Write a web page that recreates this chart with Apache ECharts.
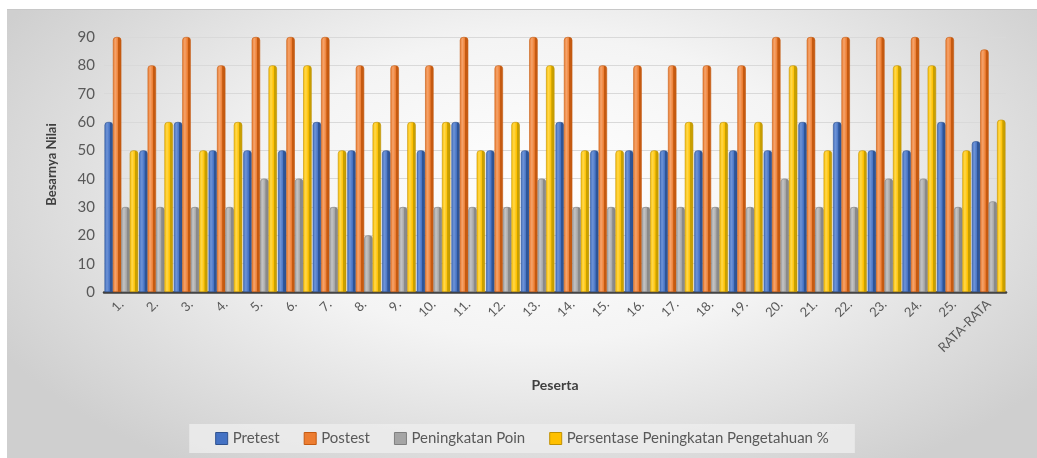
<!DOCTYPE html>
<html>
<head>
<meta charset="utf-8">
<script src="https://cdn.jsdelivr.net/npm/echarts@6/dist/echarts.min.js"></script>
<style>
  html, body { margin: 0; padding: 0; background: #ffffff; }
  #frame {
    position: absolute; left: 7px; top: 9px; width: 1030px; height: 449px;
    border-top: 1px solid #c8c8c8;
    background: radial-gradient(ellipse 60% 75% at 52% 40%, #ffffff 0%, #f4f4f4 45%, #dcdcdc 80%, #cfcfcf 100%);
  }
  #chart { position: absolute; left: 0; top: 0; width: 1030px; height: 449px; }
</style>
</head>
<body>
<div id="frame"><div id="chart"></div></div>
<script>
// Participants and the averaged column
const categories = ['1.', '2.', '3.', '4.', '5.', '6.', '7.', '8.', '9.', '10.',
  '11.', '12.', '13.', '14.', '15.', '16.', '17.', '18.', '19.', '20.',
  '21.', '22.', '23.', '24.', '25.', 'RATA-RATA'];

const pretest = [60, 50, 60, 50, 50, 50, 60, 50, 50, 50,
  60, 50, 50, 60, 50, 50, 50, 50, 50, 50,
  60, 60, 50, 50, 60, 53.2];

const postest = [90, 80, 90, 80, 90, 90, 90, 80, 80, 80,
  90, 80, 90, 90, 80, 80, 80, 80, 80, 90,
  90, 90, 90, 90, 90, 85.6];

const peningkatanPoin = [30, 30, 30, 30, 40, 40, 30, 20, 30, 30,
  30, 30, 40, 30, 30, 30, 30, 30, 30, 40,
  30, 30, 40, 40, 30, 32];

const persentase = [50, 60, 50, 60, 80, 80, 50, 60, 60, 60,
  50, 60, 80, 50, 50, 50, 60, 60, 60, 80,
  50, 50, 80, 80, 50, 60.8];

const yTicks = [0, 10, 20, 30, 40, 50, 60, 70, 80, 90];

const seriesNames = ['Pretest', 'Postest', 'Peningkatan Poin', 'Persentase Peningkatan Pengetahuan %'];

// Shaded column faces: lit front with a darker right-hand side
function shade(light, mid, dark) {
  return {
    type: 'linear', x: 0, y: 0, x2: 1, y2: 0,
    colorStops: [
      { offset: 0, color: mid },
      { offset: 0.3, color: light },
      { offset: 0.62, color: mid },
      { offset: 0.66, color: dark },
      { offset: 1, color: dark }
    ]
  };
}

const palettes = [
  { legend: '#4472C4', border: '#2F528F', fill: shade('#6E93D6', '#4472C4', '#2F5597') },
  { legend: '#ED7D31', border: '#C55A11', fill: shade('#F5A36A', '#ED7D31', '#C55A11') },
  { legend: '#A5A5A5', border: '#7F7F7F', fill: shade('#C3C3C3', '#A5A5A5', '#8A8A8A') },
  { legend: '#FFC000', border: '#BF9000', fill: shade('#FFD84A', '#FFC000', '#C9A000') }
];

const values = [pretest, postest, peningkatanPoin, persentase];

const chart = echarts.init(document.getElementById('chart'), null, { renderer: 'canvas' });

const baseFont = 'Lato, "Open Sans", "Noto Sans", sans-serif';

chart.setOption({
  animation: false,
  textStyle: { fontFamily: baseFont },
  grid: { left: 97, right: 31, top: 27, bottom: 167, containLabel: false },
  legend: {
    bottom: 6,
    left: 'center',
    itemWidth: 12,
    itemHeight: 12,
    itemGap: 24,
    padding: [7, 26, 7, 26],
    backgroundColor: 'rgba(236,236,236,0.85)',
    textStyle: { color: '#595959', fontSize: 15, fontFamily: baseFont },
    data: seriesNames.map((n, i) => ({
      name: n,
      icon: 'rect',
      itemStyle: { color: palettes[i].legend, borderColor: palettes[i].border, borderWidth: 1 }
    }))
  },
  xAxis: {
    type: 'category',
    data: categories,
    name: 'Peserta',
    nameLocation: 'middle',
    nameGap: 86,
    nameTextStyle: { color: '#404040', fontSize: 14, fontWeight: 'bold', fontFamily: baseFont },
    axisLine: { show: true, lineStyle: { color: '#3f3f3f', width: 2.5 } },
    axisTick: { show: false },
    axisLabel: { rotate: 45, color: '#595959', fontSize: 13, margin: 10, interval: 0, fontFamily: baseFont },
    splitLine: { show: false }
  },
  yAxis: {
    type: 'value',
    min: 0,
    max: 90,
    interval: 10,
    name: 'Besarnya Nilai',
    nameLocation: 'middle',
    nameGap: 46,
    nameRotate: 90,
    nameTextStyle: { color: '#404040', fontSize: 13, fontWeight: 'bold', fontFamily: baseFont },
    axisLine: { show: false },
    axisTick: { show: false },
    axisLabel: {
      color: '#595959', fontSize: 15, margin: 9, fontFamily: baseFont,
      formatter: v => (yTicks.indexOf(v) >= 0 ? String(v) : '')
    },
    splitLine: { show: true, lineStyle: { color: '#d9d9d9', width: 1 } }
  },
  series: values.map((arr, i) => ({
    name: seriesNames[i],
    type: 'bar',
    data: arr,
    barGap: '0%',
    barCategoryGap: '3%',
    itemStyle: {
      color: palettes[i].fill,
      borderColor: palettes[i].border,
      borderWidth: 0.6,
      borderRadius: [3, 3, 0, 0]
    },
    emphasis: { disabled: true }
  }))
});
</script>
</body>
</html>
